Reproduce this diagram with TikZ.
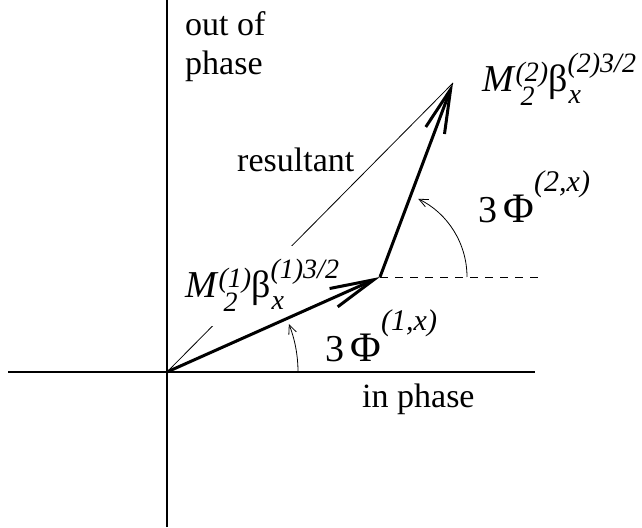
\documentclass[tikz,border=0pt]{standalone}
\usepackage{fontspec}
\setmainfont{Liberation Serif}
\usetikzlibrary{arrows.meta}
\newcommand{\lblsize}{\fontsize{34}{39}\selectfont}
\newcommand{\idx}{\fontsize{28}{28}\selectfont\itshape}
\newcommand{\phidx}{\fontsize{30}{30}\selectfont\itshape}
\newcommand{\amp}[1]{\fontsize{38}{38}\selectfont\textit{M}\rlap{\kern5pt\raisebox{-14pt}{\idx 2}}\raisebox{10pt}{\idx (#1)}β\rlap{\kern1pt\raisebox{-12pt}{\idx x}}\raisebox{19pt}{\idx (#1)3/2}}
\newcommand{\phs}[1]{\fontsize{38}{38}\selectfont 3\,{\fontsize{42}{42}\selectfont Φ}\raisebox{31pt}{\phidx (#1,x)}}

\begin{document}
\begin{tikzpicture}[x=1pt,y=1pt,
  axis/.style={line width=1.1pt},
  vec/.style={line width=3pt,-{Straight Barb[length=44pt,width=20pt]}},
  angarc/.style={line width=0.8pt,-{Straight Barb[length=9pt,width=8pt]}},
  lbl/.style={inner sep=0pt,anchor=base west,font=\lblsize}]
  \useasboundingbox (0,0) rectangle (642,527);
  \coordinate (O) at (167,155);
  \coordinate (P) at (380,250);
  \coordinate (Q) at (453,444);
  \coordinate (ytop) at (167,527);
  \coordinate (ybot) at (167,0);
  \coordinate (xl) at (8,155);
  \coordinate (xr) at (535,155);
  \coordinate (dashend) at (540,250);
  \draw[axis] (ybot) -- (ytop);
  \draw[axis] (xl) -- (xr);
  \node[lbl,align=left] (outph) at (185,452) {out of\\phase};
  \node[lbl] (inph) at (362,119) {in phase};
  \node[lbl] (res) at (237,355) {resultant};
  \draw[line width=0.8pt] (O) -- (Q);
  \draw[line width=0.9pt,dash pattern=on 8pt off 7pt] (P) -- (dashend);
  \node[lbl,fill=white,inner xsep=2pt,inner ysep=14pt] (amp1) at (183,229) {\amp{1}};
  \node[lbl] (amp2) at (482,435) {\amp{2}};
  \node[lbl] (ph1) at (325,165) {\phs{1}};
  \node[lbl] (ph2) at (478,304) {\phs{2}};
  \draw[vec] (O) -- (P);
  \draw[vec] (P) -- (Q);
  \draw[angarc] (O) ++(131,0) arc[start angle=0,end angle=21.5,radius=131];
  \draw[angarc] (P) ++(87,0) arc[start angle=0,end angle=64,radius=87];
\end{tikzpicture}
\end{document}
